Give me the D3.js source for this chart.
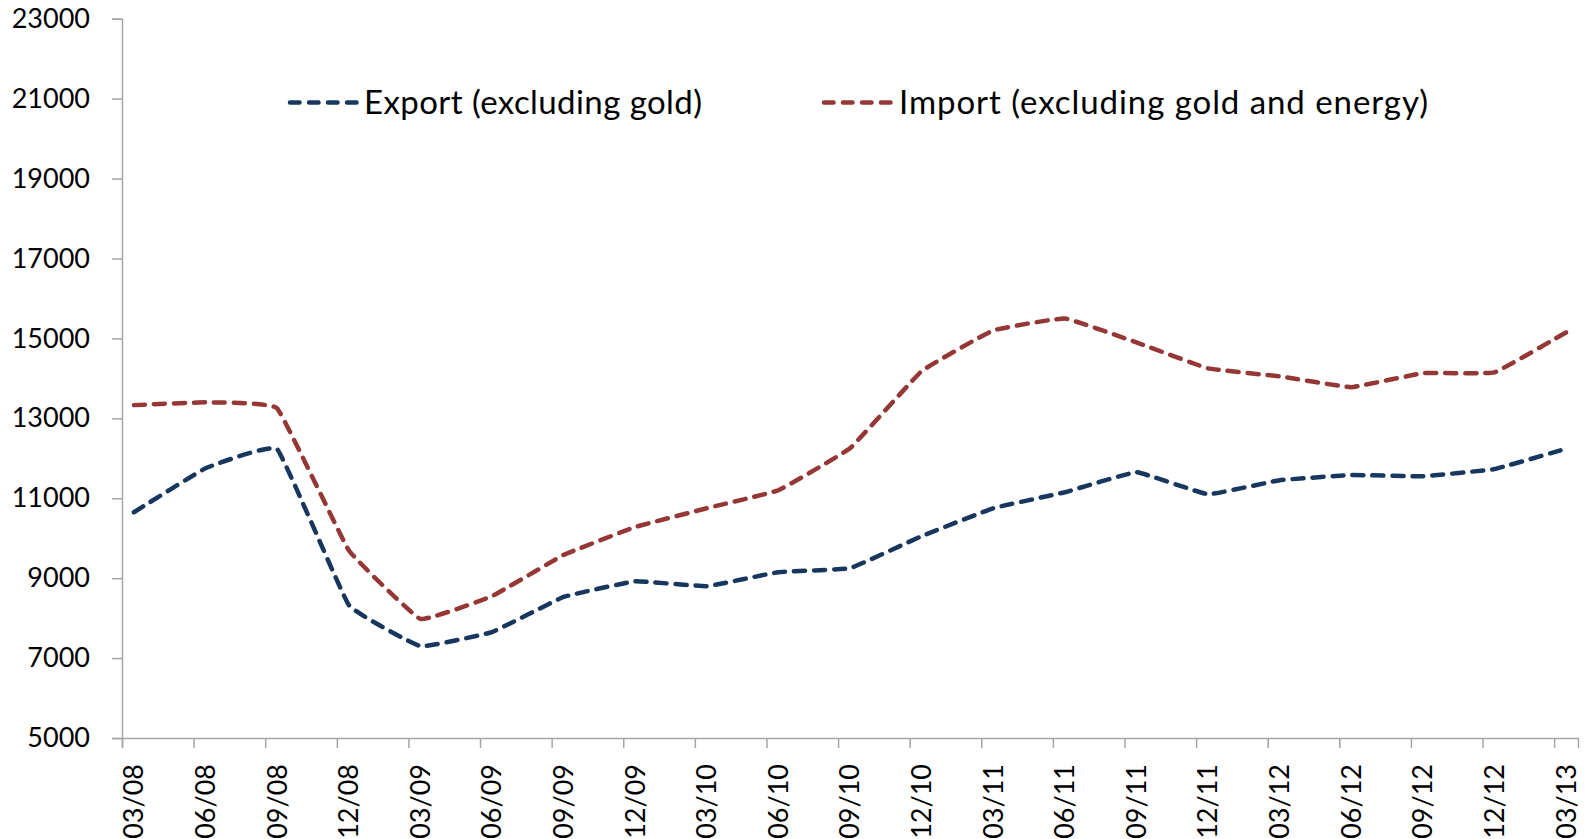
<!DOCTYPE html>
<html>
<head>
<meta charset="utf-8">
<script src="https://cdn.jsdelivr.net/npm/d3@7/dist/d3.min.js"></script>
<style>
  html, body { margin: 0; padding: 0; background: #ffffff; }
  svg { display: block; }
  text { font-family: Lato, "Open Sans", sans-serif; fill: #000; }
</style>
</head>
<body>
<svg id="chart" width="1591" height="839"></svg>
<script>
// ---- data ----
const categories = ["03/08","06/08","09/08","12/08","03/09","06/09","09/09","12/09","03/10","06/10","09/10","12/10","03/11","06/11","09/11","12/11","03/12","06/12","09/12","12/12","03/13"];
const exportVals = [10650, 11750, 12230, 8330, 7300, 7650, 8530, 8920, 8800, 9150, 9250, 10050, 10750, 11150, 11650, 11100, 11450, 11580, 11550, 11730, 12240];
const importVals = [13330, 13400, 13250, 9700, 7980, 8550, 9580, 10280, 10750, 11200, 12250, 14180, 15200, 15500, 14900, 14250, 14050, 13780, 14130, 14150, 15150];
const yTicks = [5000, 7000, 9000, 11000, 13000, 15000, 17000, 19000, 21000, 23000];
const seriesNames = ["Export (excluding gold)", "Import (excluding gold and energy)"];
const seriesColors = ["#17375E", "#953735"];

(function () {
// monthly date axis: Mar 2008 .. Mar 2013 (61 months), quarterly points centred in their month
const monthsPerCat = 3;
const monthSpan = (categories.length - 1) * monthsPerCat + 1;

const svg = d3.select("#chart");
const mLeft = 122, mRight = 1578, mTop = 18.7, mBottom = 738;

const x = d3.scaleLinear().domain([0, monthSpan]).range([mLeft, mRight]);
const y = d3.scaleLinear().domain([5000, 23000]).range([mBottom, mTop]);
const px = i => x(i * monthsPerCat + 0.5);

const axisColor = "#a6a6a6";

// y axis
const yAxis = svg.append("g")
  .attr("transform", `translate(${mLeft},0)`)
  .call(d3.axisLeft(y).tickValues(yTicks).tickSize(10).tickPadding(22).tickFormat(d3.format("d")));
yAxis.select(".domain").attr("stroke", axisColor).attr("stroke-width", 1.5);
yAxis.selectAll(".tick line").attr("stroke", axisColor).attr("stroke-width", 1.5);
yAxis.selectAll(".tick text")
  .attr("font-family", "Lato, 'Open Sans', sans-serif")
  .attr("font-size", 27).attr("fill", "#000");

// x axis
const xAxis = svg.append("g")
  .attr("transform", `translate(0,${mBottom})`)
  .call(d3.axisBottom(x)
    .tickValues(d3.range(0, monthSpan, monthsPerCat))
    .tickSize(10).tickFormat(""));
xAxis.select(".domain").attr("stroke", axisColor).attr("stroke-width", 1.5);
xAxis.selectAll(".tick line").attr("stroke", axisColor).attr("stroke-width", 1.5);

svg.append("g").selectAll("text")
  .data(categories)
  .join("text")
  .attr("transform", (d, i) => `translate(${px(i)},${mBottom + 26}) rotate(-90)`)
  .attr("text-anchor", "end")
  .attr("dy", "0.35em")
  .attr("font-size", 27)
  .text(d => d);

// lines
const line = d3.line()
  .x((d, i) => px(i))
  .y(d => y(d))
  .curve(d3.curveCardinal.tension(0.75));

[exportVals, importVals].forEach((vals, k) => {
  svg.append("path")
    .datum(vals)
    .attr("d", line)
    .attr("fill", "none")
    .attr("stroke", seriesColors[k])
    .attr("stroke-width", 4.5)
    .attr("stroke-linecap", "round")
    .attr("stroke-linejoin", "round")
    .attr("stroke-dasharray", "11 9");
});

// legend
const legendItems = [
  { x0: 290, x1: 357, tx: 364, w: 338 },
  { x0: 824, x1: 892, tx: 899, w: 529 }
];
const legY = 102.5;
legendItems.forEach((it, k) => {
  svg.append("line")
    .attr("x1", it.x0).attr("x2", it.x1)
    .attr("y1", legY).attr("y2", legY)
    .attr("stroke", seriesColors[k])
    .attr("stroke-width", 4.5)
    .attr("stroke-linecap", "round")
    .attr("stroke-dasharray", "9.5 9.5");
  svg.append("text")
    .attr("x", it.tx).attr("y", legY)
    .attr("dy", "0.35em")
    .attr("font-family", "Lato, 'Open Sans', sans-serif")
    .attr("font-size", 33)
    .attr("textLength", it.w)
    .attr("lengthAdjust", "spacing")
    .text(seriesNames[k]);
});
})();
</script>
</body>
</html>
